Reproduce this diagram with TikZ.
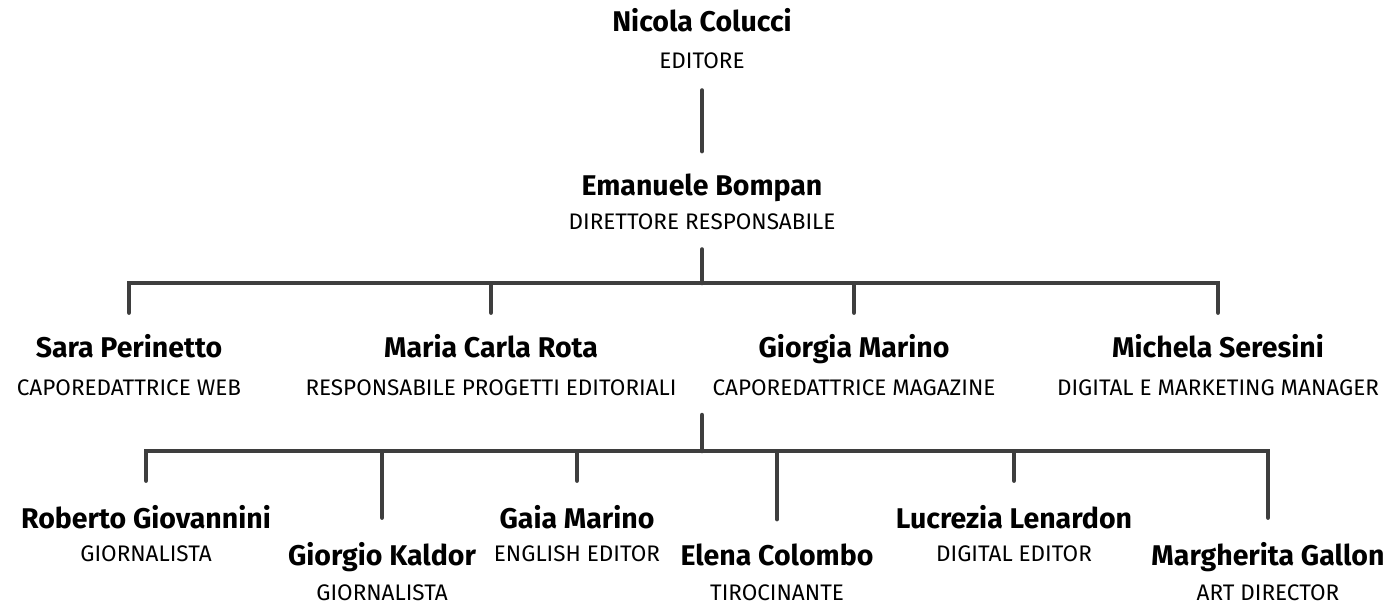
\documentclass[tikz,border=0pt]{standalone}
\usepackage{fontspec}
\setmainfont{Fira Sans}
\usetikzlibrary{positioning}
\definecolor{linegray}{HTML}{3E3E3E}
\tikzset{
  personname/.style={font=\bfseries\fontsize{28.5}{32}\selectfont, inner sep=0pt, anchor=base},
  persontitle/.style={font=\fontsize{22.5}{26}\selectfont, inner sep=0pt, anchor=base},
  link/.style={draw=linegray, line width=4.5pt, line cap=round},
}
\begin{document}
\begin{tikzpicture}[x=1pt,y=-1pt]
  \useasboundingbox (0,0) rectangle (1388,607);

  % top of the chart
  \node[personname] (colucci) at (702,32) {Nicola Colucci};
  \node[persontitle] (colucci title) at (702,69) {EDITORE};
  \node[personname] (bompan) at (702,195) {Emanuele Bompan};
  \node[persontitle] (bompan title) at (702,229) {DIRETTORE RESPONSABILE};

  % second row
  \node[personname] (perinetto) at (129,357) {Sara Perinetto};
  \node[persontitle] (perinetto title) at (129,395) {CAPOREDATTRICE WEB};
  \node[personname] (rota) at (491,357) {Maria Carla Rota};
  \node[persontitle] (rota title) at (491,395) {RESPONSABILE PROGETTI EDITORIALI};
  \node[personname] (gmarino) at (854,357) {Giorgia Marino};
  \node[persontitle] (gmarino title) at (854,395) {CAPOREDATTRICE MAGAZINE};
  \node[personname] (seresini) at (1218,357) {Michela Seresini};
  \node[persontitle] (seresini title) at (1218,395) {DIGITAL E MARKETING MANAGER};

  % third row
  \node[personname] (giovannini) at (146,528) {Roberto Giovannini};
  \node[persontitle] (giovannini title) at (146,561) {GIORNALISTA};
  \node[personname] (kaldor) at (382,565) {Giorgio Kaldor};
  \node[persontitle] (kaldor title) at (382,600) {GIORNALISTA};
  \node[personname] (gaia) at (577,528) {Gaia Marino};
  \node[persontitle] (gaia title) at (577,561) {ENGLISH EDITOR};
  \node[personname] (colombo) at (777,565) {Elena Colombo};
  \node[persontitle] (colombo title) at (777,600) {TIROCINANTE};
  \node[personname] (lenardon) at (1014,528) {Lucrezia Lenardon};
  \node[persontitle] (lenardon title) at (1014,561) {DIGITAL EDITOR};
  \node[personname] (gallon) at (1268,565) {Margherita Gallon};
  \node[persontitle] (gallon title) at (1268,600) {ART DIRECTOR};

  \coordinate (bar a) at (702,283);
  \coordinate (bar b top) at (702,415);
  \coordinate (bar b) at (702,451);

  \draw[link] ([yshift=-21pt]colucci title.south) -- ([yshift=22pt]bompan.north);
  \draw[link] ([yshift=-20pt]bompan title.south) -- (bar a);
  \foreach \who in {perinetto,rota,gmarino,seresini}
    \draw[link] (bar a) -| ([yshift=21pt]\who.north);

  \draw[link] (bar b top) -- (bar b);
  \foreach \who in {giovannini,kaldor,gaia,colombo,lenardon,gallon}
    \draw[link] (bar b) -| ([yshift=24pt]\who.north);
\end{tikzpicture}
\end{document}
